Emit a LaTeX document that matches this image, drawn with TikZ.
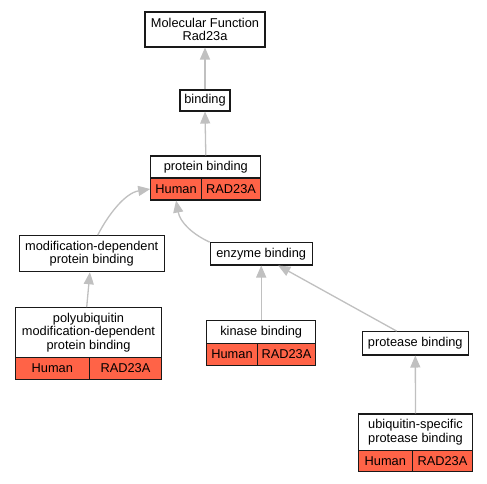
\documentclass[tikz,border=0pt]{standalone}
\usepackage{fontspec}
\setmainfont{Liberation Sans}
\usetikzlibrary{arrows.meta}
\definecolor{cellred}{HTML}{FF6347}
\definecolor{edgegray}{HTML}{C0C0C0}
\tikzset{
  gobox/.style={draw=black!90, line width=1.1pt, fill=white, inner sep=0pt, align=center,
    font=\fontsize{12.8}{13.6}\selectfont},
  gocell/.style={gobox, fill=cellred},
  goedge/.style={draw=edgegray, line width=1.3pt,
    -{Triangle[length=12pt,width=10pt,fill=edgegray]}},
}
\begin{document}
\begin{tikzpicture}[x=1pt,y=-1pt]
\fill[white] (0,0) rectangle (487,483);
\useasboundingbox (0,0) rectangle (487,483);

% Molecular Function
\node[gobox, minimum width=120pt, minimum height=35pt] (mf) at (205,29.5) {Molecular Function\\Rad23a};
% binding
\node[gobox, minimum width=50pt, minimum height=21pt] (bind) at (205,100.5) {binding};
% protein binding
\node[gobox, minimum width=110pt, minimum height=22pt] (pb) at (205.8,167) {protein binding};
\node[gocell, minimum width=50.7pt, minimum height=22pt] (pbh) at (176.1,189) {Human};
\node[gocell, minimum width=59.3pt, minimum height=22pt] (pbr) at (231.1,189) {RAD23A};
% modification-dependent protein binding
\node[gobox, minimum width=145pt, minimum height=36pt] (mdpb) at (91.7,253.7) {modification-dependent\\protein binding};
% enzyme binding
\node[gobox, minimum width=102pt, minimum height=22.3pt] (eb) at (261.2,253.8) {enzyme binding};
% polyubiquitin ...
\node[gobox, minimum width=146.4pt, minimum height=49.6pt] (pu) at (88.5,332.5) {polyubiquitin\\modification-dependent\\protein binding};
\node[gocell, minimum width=74pt, minimum height=21.7pt] (puh) at (52.3,368.2) {Human};
\node[gocell, minimum width=72.4pt, minimum height=21.7pt] (pur) at (125.5,368.2) {RAD23A};
% kinase binding
\node[gobox, minimum width=109pt, minimum height=22.6pt] (kb) at (261.2,332) {kinase binding};
\node[gocell, minimum width=50.6pt, minimum height=21.7pt] (kbh) at (232,354.2) {Human};
\node[gocell, minimum width=58.4pt, minimum height=21.7pt] (kbr) at (286.5,354.2) {RAD23A};
% protease binding
\node[gobox, minimum width=106pt, minimum height=23.3pt] (prb) at (415.3,343.3) {protease binding};
% ubiquitin-specific protease binding
\node[gobox, minimum width=114.4pt, minimum height=36.7pt] (usp) at (415.5,432.3) {ubiquitin-specific\\protease binding};
\node[gocell, minimum width=54pt, minimum height=20.5pt] (usph) at (385.3,460.9) {Human};
\node[gocell, minimum width=60.4pt, minimum height=20.5pt] (uspr) at (442.5,460.9) {RAD23A};

% edges
\draw[goedge] (bind.north) -- (mf.south);
\draw[goedge] (pb.north) -- (bind.south);
\draw[goedge] ([xshift=6pt]mdpb.north) .. controls (108,215) and (125,193) .. (pbh.west);
\draw[goedge] (eb.north west) .. controls (192,234) and (180,222) .. (pbh.south);
\draw[goedge] ([xshift=-1.8pt]pu.north) -- ([xshift=-1.8pt]mdpb.south);
\draw[goedge] (kb.north) -- (eb.south);
\draw[goedge] ([xshift=-18.6pt]prb.north) -- ([xshift=17pt]eb.south);
\draw[goedge] (usp.north) -- (prb.south);
\end{tikzpicture}
\end{document}
